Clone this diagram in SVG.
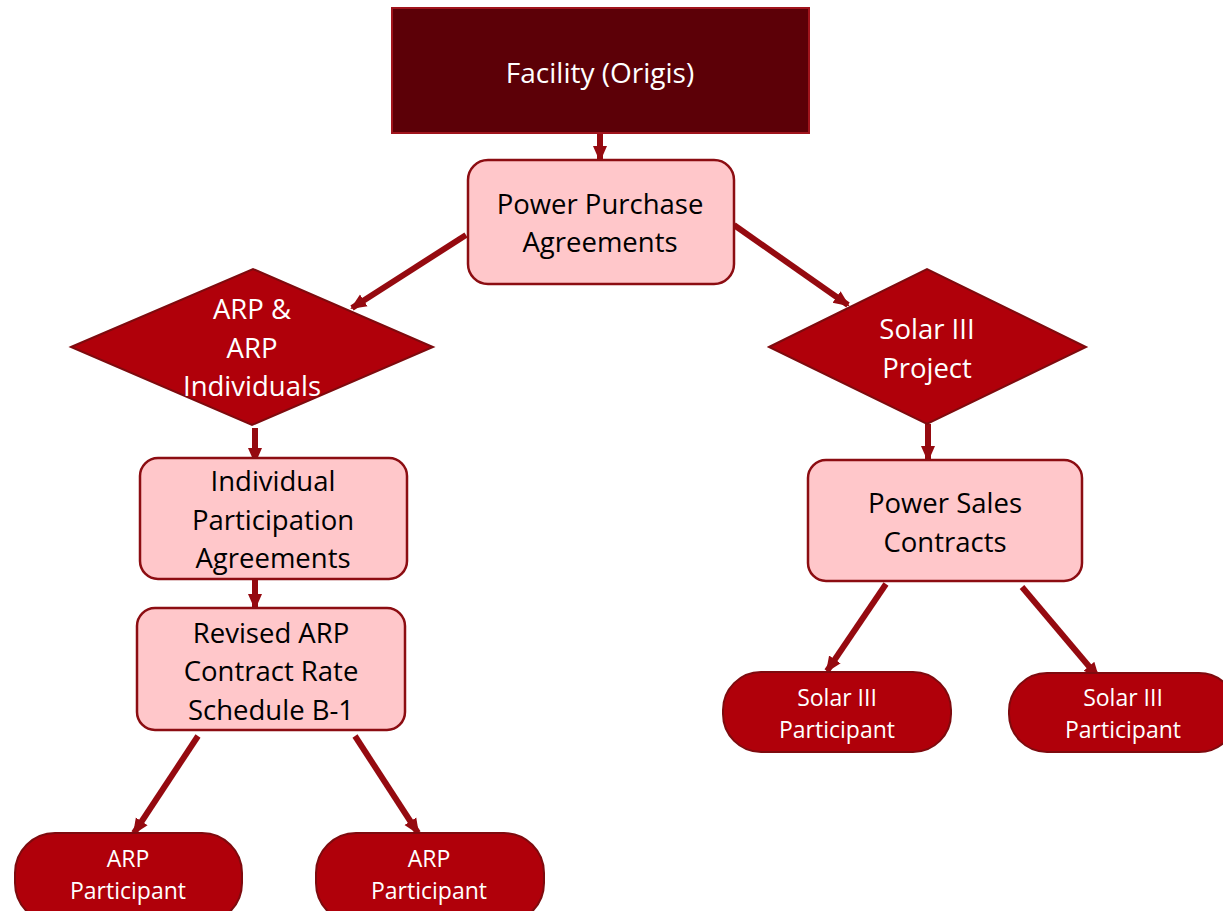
<svg xmlns="http://www.w3.org/2000/svg" width="1223" height="911" viewBox="0 0 1223 911">
<defs>
<style>
.dark{fill:#5c0007;stroke:#a0141c;stroke-width:2}
.pink{fill:#ffc7ca;stroke:#8c0d12;stroke-width:2.5}
.red{fill:#b0000a;stroke:#7e0a0e;stroke-width:2}
.tw{fill:#ffffff;font-family:"Open Sans",Lato,sans-serif;text-anchor:middle}
.tb{fill:#000000;font-family:"Open Sans",Lato,sans-serif;text-anchor:middle;font-size:27.5px}
.c{stroke:#950a10;stroke-width:6;fill:none;marker-end:url(#ah)}
</style>
<marker id="ah" markerUnits="userSpaceOnUse" markerWidth="18" markerHeight="16" refX="14" refY="8" orient="auto">
<path d="M0,1 L16,8 L0,15 Z" fill="#950a10"/>
</marker>
</defs>
<rect width="1223" height="911" fill="#ffffff"/>
<g id="connectors">
<line class="c" x1="600" y1="133" x2="600" y2="160"/>
<line class="c" x1="466" y1="235" x2="352" y2="308"/>
<line class="c" x1="734" y1="225" x2="848" y2="305"/>
<line class="c" x1="255" y1="428" x2="255" y2="462"/>
<line class="c" x1="255" y1="572" x2="255" y2="608"/>
<line class="c" x1="198" y1="736" x2="134" y2="833"/>
<line class="c" x1="355" y1="736" x2="418" y2="833"/>
<line class="c" x1="928" y1="424" x2="928" y2="460"/>
<line class="c" x1="886" y1="584" x2="827" y2="671"/>
<line class="c" x1="1022" y1="587" x2="1098" y2="677"/>
</g>
<g id="facility">
<rect class="dark" x="392" y="8" width="417" height="125"/>
<text class="tw" x="600" y="83" font-size="28">Facility (Origis)</text>
</g>
<g id="ppa">
<rect class="pink" x="468" y="160" width="266" height="124" rx="20"/>
<text class="tb" x="600" y="214">Power Purchase</text>
<text class="tb" x="600" y="252">Agreements</text>
</g>
<g id="arp-diamond">
<polygon class="red" points="71,347 253,269 433,347 252,425"/>
<text class="tw" x="252" y="319" font-size="27.5">ARP &amp;</text>
<text class="tw" x="252" y="358" font-size="27.5">ARP</text>
<text class="tw" x="252" y="396" font-size="27.5">Individuals</text>
</g>
<g id="solar-diamond">
<polygon class="red" points="769,347 927,269 1086,347 927,424"/>
<text class="tw" x="927" y="339" font-size="27.5">Solar III</text>
<text class="tw" x="927" y="378" font-size="27.5">Project</text>
</g>
<g id="ipa">
<rect class="pink" x="140" y="458" width="267" height="121" rx="18"/>
<text class="tb" x="273" y="491">Individual</text>
<text class="tb" x="273" y="530">Participation</text>
<text class="tb" x="273" y="568">Agreements</text>
</g>
<g id="revised">
<rect class="pink" x="137" y="608" width="268" height="122" rx="18"/>
<text class="tb" x="271" y="643">Revised ARP</text>
<text class="tb" x="271" y="681">Contract Rate</text>
<text class="tb" x="271" y="720">Schedule B-1</text>
</g>
<g id="psc">
<rect class="pink" x="808" y="460" width="274" height="121" rx="18"/>
<text class="tb" x="945" y="513">Power Sales</text>
<text class="tb" x="945" y="552">Contracts</text>
</g>
<g id="arp-p1">
<rect class="red" x="15" y="833" width="227" height="90" rx="40"/>
<text class="tw" x="128" y="867" font-size="23">ARP</text>
<text class="tw" x="128" y="899" font-size="23">Participant</text>
</g>
<g id="arp-p2">
<rect class="red" x="316" y="833" width="228" height="90" rx="40"/>
<text class="tw" x="429" y="867" font-size="23">ARP</text>
<text class="tw" x="429" y="899" font-size="23">Participant</text>
</g>
<g id="solar-p1">
<rect class="red" x="723" y="672" width="228" height="80" rx="38"/>
<text class="tw" x="837" y="706" font-size="23">Solar III</text>
<text class="tw" x="837" y="738" font-size="23">Participant</text>
</g>
<g id="solar-p2">
<rect class="red" x="1009" y="673" width="228" height="79" rx="38"/>
<text class="tw" x="1123" y="706" font-size="23">Solar III</text>
<text class="tw" x="1123" y="738" font-size="23">Participant</text>
</g>
</svg>
